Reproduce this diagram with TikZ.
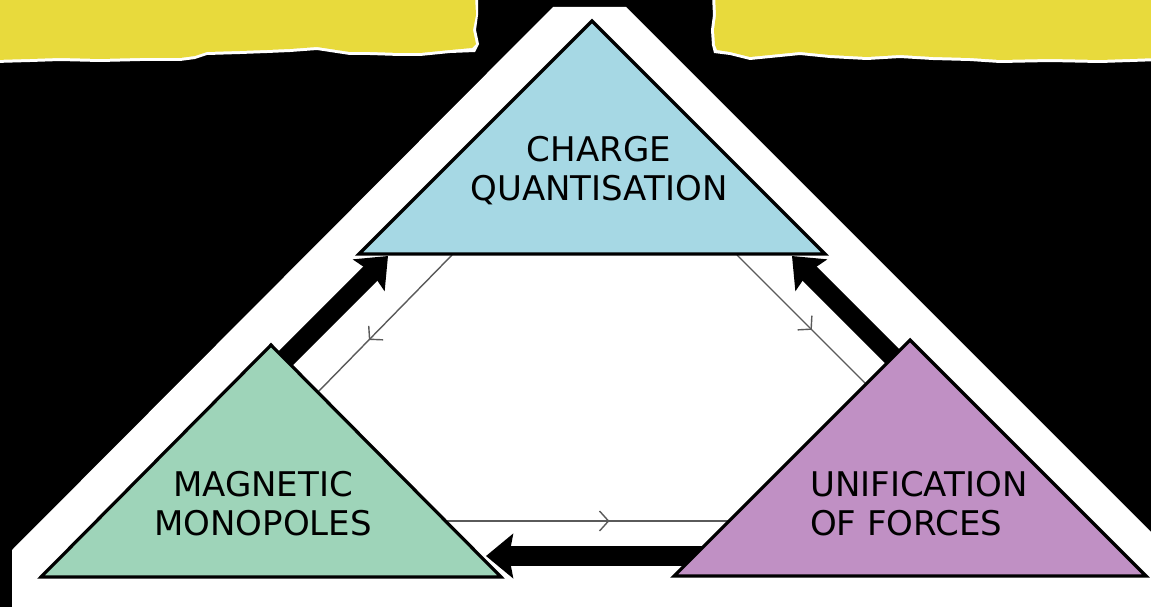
\documentclass[tikz,border=0pt]{standalone}
\usepackage{fontspec}
\setmainfont{DejaVu Sans}
\usetikzlibrary{arrows.meta,decorations.markings}
\definecolor{ylw}{HTML}{E8DA3C}
\definecolor{tblue}{HTML}{A6D8E4}
\definecolor{tgreen}{HTML}{9ED4B9}
\definecolor{tpurple}{HTML}{C090C4}
\definecolor{flowgray}{HTML}{5A5A5A}
\begin{document}
\begin{tikzpicture}[x=1pt,y=-1pt,
  tri/.style={draw=black,line width=3.2pt,line join=miter},
  bigarrow/.style={draw=black,line width=20pt,-{Stealth[length=27pt,width=44pt,inset=4pt]}},
  flow/.style={draw=flowgray,line width=1.4pt,postaction={decorate},
    decoration={markings,mark=at position #1 with {\arrow{Straight Barb[length=9pt,width=20pt,line width=1.4pt]}}}},
  lbl/.style={font=\fontsize{34}{39}\selectfont,inner sep=0pt,text=black}]
\useasboundingbox (0,0) rectangle (1151,607);
\fill[black] (0,0) rectangle (1151,607);
% torn yellow strips
\fill[white] (-5,-5) -- (478,-5) -- (478,15) -- (476,30) -- (479,44) -- (475,52) -- (450,53) -- (420,56) -- (400,56) -- (370,55) -- (350,55) -- (317,50) -- (290,52) -- (267,53) -- (240,54) -- (207,55) -- (195,59) -- (180,61) -- (140,61) -- (100,62) -- (60,61) -- (30,62) -- (-5,63) -- cycle;
\fill[ylw] (-5,-5) -- (475,-5) -- (476,15) -- (473,30) -- (476,44) -- (472,48) -- (450,50) -- (420,53) -- (400,53) -- (370,52) -- (350,52) -- (317,47) -- (290,49) -- (267,50) -- (240,51) -- (207,52) -- (195,56) -- (180,58) -- (140,58) -- (100,59) -- (60,58) -- (30,59) -- (-5,60) -- cycle;
\fill[white] (1160,-5) -- (712,-5) -- (713,15) -- (711,30) -- (712,45) -- (714,53) -- (730,55) -- (750,60) -- (780,57) -- (800,55) -- (830,58) -- (867,60) -- (900,58) -- (933,60) -- (970,61) -- (1000,63) -- (1050,62) -- (1100,63) -- (1160,61) -- cycle;
\fill[ylw] (1160,-5) -- (715,-5) -- (716,15) -- (714,30) -- (715,45) -- (717,50) -- (730,52) -- (750,57) -- (780,54) -- (800,52) -- (830,55) -- (867,57) -- (900,55) -- (933,57) -- (970,58) -- (1000,60) -- (1050,59) -- (1100,60) -- (1160,58) -- cycle;
% white triangle background
\fill[white] (12,610) -- (12,550) -- (553,7) -- (626,7) -- (1155,536) -- (1155,610) -- cycle;
% named points
\coordinate (cqA) at (592,21);
\coordinate (cqL) at (359,254);
\coordinate (cqR) at (825,254);
\coordinate (mmA) at (271,345);
\coordinate (mmL) at (41,577);
\coordinate (mmR) at (501,577);
\coordinate (ufA) at (910,340);
\coordinate (ufL) at (674,576);
\coordinate (ufR) at (1146,576);
% thin flow lines
\coordinate (f1s) at (452,255);
\coordinate (f1e) at (318,392);
\coordinate (f2s) at (737,255);
\coordinate (f2e) at (866,384);
\coordinate (f3s) at (447,521);
\coordinate (f3e) at (732,521);
\draw[flow=0.62] (f1s) -- (f1e);
\draw[flow=0.58] (f2s) -- (f2e);
\draw[flow=0.57] (f3s) -- (f3e);
% thick arrows
\coordinate (b1s) at (275,369);
\coordinate (b1e) at (388,256);
\coordinate (b2s) at (905,369);
\coordinate (b2e) at (792,256);
\coordinate (b3s) at (712,556);
\coordinate (b3e) at (486,556);
\draw[bigarrow] (b1s) -- (b1e);
\draw[bigarrow] (b2s) -- (b2e);
\draw[bigarrow] (b3s) -- (b3e);
% triangles
\filldraw[tri,fill=tblue] (cqA) -- (cqR) -- (cqL) -- cycle;
\filldraw[tri,fill=tgreen] (mmA) -- (mmR) -- (mmL) -- cycle;
\filldraw[tri,fill=tpurple] (ufA) -- (ufR) -- (ufL) -- cycle;
% labels
\node[lbl,align=center,anchor=base] (cq) at (599,200) {CHARGE\\QUANTISATION};
\node[lbl,align=center,anchor=base] (mm) at (263,535) {MAGNETIC\\MONOPOLES};
\node[lbl,align=left,anchor=base west] (uf) at (810,535) {UNIFICATION\\OF FORCES};
\end{tikzpicture}
\end{document}
